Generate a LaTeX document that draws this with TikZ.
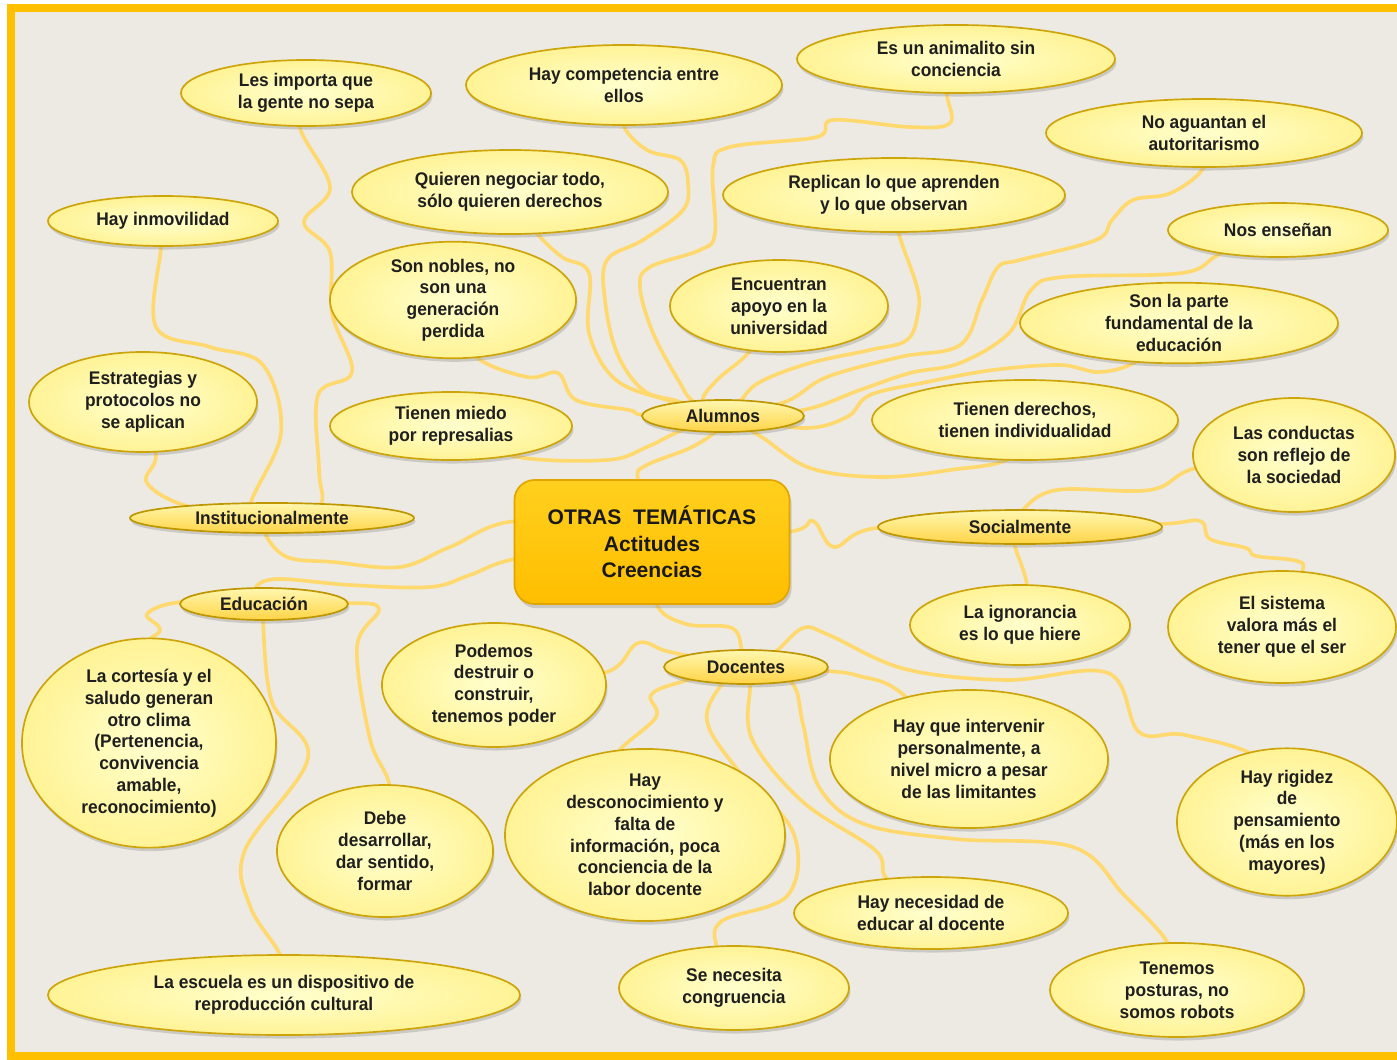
\documentclass[tikz,border=0pt]{standalone}
\usepackage{fontspec}
\setmainfont{Liberation Sans}[FakeStretch=0.95]
\newfontfamily\boxfont{Liberation Sans}
\usepackage{tikz}
\usetikzlibrary{shapes.geometric,shadows}
\definecolor{fondo}{RGB}{236,234,226}
\definecolor{marco}{RGB}{255,192,0}
\definecolor{linea}{RGB}{255,217,110}
\definecolor{leafin}{RGB}{255,255,205}
\definecolor{leafout}{RGB}{255,243,150}
\definecolor{leafedge}{RGB}{205,165,10}
\definecolor{hubtop}{RGB}{255,247,175}
\definecolor{hubbot}{RGB}{255,212,70}
\definecolor{hubedge}{RGB}{190,150,0}
\definecolor{boxtop}{RGB}{255,208,30}
\definecolor{boxbot}{RGB}{255,190,0}
\definecolor{boxedge}{RGB}{225,165,0}
\pgfdeclarelayer{bg}
\pgfdeclarelayer{lines}
\pgfsetlayers{bg,lines,main}

\begin{document}
\begin{tikzpicture}[x=0.025cm, y=-0.025cm,
    leaf/.style={ellipse, draw=leafedge, line width=1.2pt, inner color=leafin, outer color=leafout,
      drop shadow={opacity=0.3, shadow xshift=1pt, shadow yshift=-2.5pt},
      align=center, inner sep=0pt, text=black!88, font=\bfseries\fontsize{13}{15.5}\selectfont},
    hub/.style={leaf, top color=hubtop, bottom color=hubbot, draw=hubedge},
    centro/.style={rectangle, rounded corners=0.5cm, draw=boxedge, line width=1.2pt,
      top color=boxtop, bottom color=boxbot, minimum width=6.875cm, minimum height=3.1cm,
      drop shadow={opacity=0.3, shadow xshift=1.5pt, shadow yshift=-3pt},
      align=center, text=black!90, font=\boxfont\bfseries\fontsize{15}{19}\selectfont},
    dims/.style 2 args={minimum width=#1*0.05cm, minimum height=#2*0.05cm},
    link/.style={draw=linea, line width=2.6pt, line cap=round, line join=round}]
            \useasboundingbox (0,0) rectangle (1397,1060);
            \node[leaf, dims={125}{33}] (importa) at (306,93) {Les importa que\\la gente no sepa};
            \node[leaf, dims={158}{40}] (compet) at (624,85) {Hay competencia entre\\ellos};
            \node[leaf, dims={159}{34}] (animal) at (956,59) {Es un animalito sin\\conciencia};
            \node[leaf, dims={158}{34}] (aguantan) at (1204,133) {No aguantan el\\autoritarismo};
            \node[leaf, dims={158}{42}] (negociar) at (510,192) {Quieren negociar todo,\\sólo quieren derechos};
            \node[leaf, dims={171}{37}] (replican) at (894,195) {Replican lo que aprenden\\y lo que observan};
            \node[leaf, dims={115}{25}] (inmov) at (163,221) {Hay inmovilidad};
            \node[leaf, dims={110}{27}] (ensenan) at (1278,230) {Nos enseñan};
            \node[leaf, dims={123}{55}] (nobles) at (453,300) {Son nobles, no\\son una\\generación\\perdida};
            \node[leaf, dims={109}{46}] (apoyo) at (779,306) {Encuentran\\apoyo en la\\universidad};
            \node[leaf, dims={159}{40}] (parte) at (1179,323) {Son la parte\\fundamental de la\\educación};
            \node[leaf, dims={114}{50}] (estrat) at (143,402) {Estrategias y\\protocolos no\\se aplican};
            \node[leaf, dims={121}{34}] (miedo) at (451,426) {Tienen miedo\\por represalias};
            \node[hub, dims={81}{16}] (alumnos) at (723,416) {Alumnos};
            \node[leaf, dims={153}{40}] (derechos) at (1025,420) {Tienen derechos,\\tienen individualidad};
            \node[leaf, dims={101}{57}] (conductas) at (1294,455) {Las conductas\\son reflejo de\\la sociedad};
            \node[hub, dims={142}{15}] (instit) at (272,518) {Institucionalmente};
            \node[centro] (tema) at (652,542) {OTRAS\ \ TEMÁTICAS\\Actitudes\\Creencias};
            \node[hub, dims={142}{17}] (social) at (1020,527) {Socialmente};
            \node[hub, dims={84}{16}] (educ) at (264,604) {Educación};
            \node[leaf, dims={110}{40}] (ignor) at (1020,625) {La ignorancia\\es lo que hiere};
            \node[leaf, dims={114}{56}] (sistema) at (1282,627) {El sistema\\valora más el\\tener que el ser};
            \node[hub, dims={82}{17}] (docentes) at (746,667) {Docentes};
            \node[leaf, dims={112}{62}] (poder) at (494,685) {Podemos\\destruir o\\construir,\\tenemos poder};
            \node[leaf, dims={127}{93}] (cortesia) at (149,743) {La cortesía y el\\saludo generan\\otro clima\\(Pertenencia,\\convivencia\\amable,\\reconocimiento)};
            \node[leaf, dims={139}{69}] (intervenir) at (969,759) {Hay que intervenir\\personalmente, a\\nivel micro a pesar\\de las limitantes};
            \node[leaf, dims={110}{63}] (rigidez) at (1287,822) {Hay rigidez\\de\\pensamiento\\(más en los\\mayores)};
            \node[leaf, dims={108}{66}] (debe) at (385,851) {Debe\\desarrollar,\\dar sentido,\\formar};
            \node[leaf, dims={140}{78}] (descon) at (645,835) {Hay\\desconocimiento y\\falta de\\información, poca\\conciencia de la\\labor docente};
            \node[leaf, dims={137}{36}] (necesidad) at (931,913) {Hay necesidad de\\educar al docente};
            \node[leaf, dims={236}{40}] (escuela) at (284,995) {La escuela es un dispositivo de\\reproducción cultural};
            \node[leaf, dims={115}{42}] (congru) at (734,988) {Se necesita\\congruencia};
            \node[leaf, dims={127}{47}] (posturas) at (1177,990) {Tenemos\\posturas, no\\somos robots};
            \begin{pgfonlayer}{bg}
            \fill[white] (0,0) rectangle (1397,1060);
            \fill[fondo] (11,8) rectangle (1410,1056);
            \draw[marco, line width=0.2cm] (11,8) rectangle (1410,1056);
            \end{pgfonlayer}
            \begin{pgfonlayer}{lines}
            \draw[link] plot[smooth, tension=0.6] coordinates {(importa.center) (300,128) (330,187) (304,222) (330,252) (332,313) (352,372) (318,395) (319,470) (319,506) (instit.center)};
            \draw[link] plot[smooth, tension=0.6] coordinates {(inmov.center) (161,248) (156,327) (210,347) (263,365) (281,433) (250,506) (instit.center)};
            \draw[link] plot[smooth, tension=0.6] coordinates {(estrat.center) (156,455) (147,483) (190,507) (instit.center)};
            \draw[link] plot[smooth, tension=0.6] coordinates {(instit.center) (265,533) (287,557) (333,562) (400,567) (450,547) (520,521) (tema.center)};
            \draw[link] plot[smooth, tension=0.6] coordinates {(educ.center) (255,589) (277,579) (350,585) (430,587) (470,575) (520,558) (tema.center)};
            \draw[link] plot[smooth, tension=0.6] coordinates {(educ.center) (182,602) (147,614) (160,630) (143,654) (cortesia.center)};
            \draw[link] plot[smooth, tension=0.6] coordinates {(educ.center) (263,622) (272,702) (308,758) (245,850) (250,906) (281,957) (escuela.center)};
            \draw[link] plot[smooth, tension=0.6] coordinates {(educ.center) (347,603) (379,609) (357,647) (370,739) (390,788) (debe.center)};
            \draw[link] plot[smooth, tension=0.6] coordinates {(tema.center) (638,481) (645,466) (690,448) (716,431) (alumnos.center)};
            \draw[link] plot[smooth, tension=0.6] coordinates {(miedo.center) (513,456) (607,460) (647,447) (680,431) (alumnos.center)};
            \draw[link] plot[smooth, tension=0.6] coordinates {(nobles.center) (473,354) (527,377) (558,373) (576,400) (629,410) (645,415) (alumnos.center)};
            \draw[link] plot[smooth, tension=0.6] coordinates {(negociar.center) (536,232) (562,257) (589,273) (589,333) (616,380) (670,401) (alumnos.center)};
            \draw[link] plot[smooth, tension=0.6] coordinates {(compet.center) (623,124) (647,150) (680,160) (688,183) (683,210) (643,240) (607,260) (605,300) (617,353) (643,390) (677,401) (alumnos.center)};
            \draw[link] plot[smooth, tension=0.6] coordinates {(animal.center) (947,92) (950,123) (910,127) (833,120) (817,137) (730,147) (713,167) (715,233) (700,250) (650,267) (640,287) (653,333) (680,383) (693,401) (alumnos.center)};
            \draw[link] plot[smooth, tension=0.6] coordinates {(replican.center) (898,231) (917,287) (918,313) (907,340) (870,350) (810,363) (760,382) (740,401) (alumnos.center)};
            \draw[link] plot[smooth, tension=0.6] coordinates {(apoyo.center) (750,351) (717,380) (703,401) (alumnos.center)};
            \draw[link] plot[smooth, tension=0.6] coordinates {(aguantan.center) (1204,167) (1171,193) (1133,200) (1112,220) (1096,240) (1020,260) (998,267) (982,300) (960,345) (900,357) (827,377) (785,402) (alumnos.center)};
            \draw[link] plot[smooth, tension=0.6] coordinates {(ensenan.center) (1220,254) (1182,273) (1063,277) (1031,290) (1009,333) (960,363) (910,373) (860,390) (803,410) (alumnos.center)};
            \draw[link] plot[smooth, tension=0.6] coordinates {(parte.center) (1139,360) (1100,372) (1060,365) (993,370) (927,382) (870,395) (847,417) (803,428) (alumnos.center)};
            \draw[link] plot[smooth, tension=0.6] coordinates {(alumnos.center) (760,436) (810,468) (880,477) (950,470) (1010,458) (derechos.center)};
            \draw[link] plot[smooth, tension=0.6] coordinates {(tema.center) (788,532) (813,521) (834,547) (877,528) (social.center)};
            \draw[link] plot[smooth, tension=0.6] coordinates {(social.center) (1014,542) (1027,586) (ignor.center)};
            \draw[link] plot[smooth, tension=0.6] coordinates {(social.center) (1160,524) (1200,521) (1210,539) (1246,548) (1256,556) (1297,561) (1302,573) (sistema.center)};
            \draw[link] plot[smooth, tension=0.6] coordinates {(social.center) (1022,511) (1057,490) (1150,490) (1196,468) (conductas.center)};
            \draw[link] plot[smooth, tension=0.6] coordinates {(tema.center) (656,603) (686,624) (732,628) (742,651) (docentes.center)};
            \draw[link] plot[smooth, tension=0.6] coordinates {(poder.center) (604,673) (638,643) (670,652) (docentes.center)};
            \draw[link] plot[smooth, tension=0.6] coordinates {(docentes.center) (681,682) (651,695) (656,717) (620,750) (630,760) (descon.center)};
            \draw[link] plot[smooth, tension=0.6] coordinates {(docentes.center) (722,684) (707,721) (737,769) (793,832) (788,895) (722,921) (717,948) (congru.center)};
            \draw[link] plot[smooth, tension=0.6] coordinates {(docentes.center) (750,684) (752,739) (803,802) (875,850) (887,879) (necesidad.center)};
            \draw[link] plot[smooth, tension=0.6] coordinates {(docentes.center) (791,682) (803,724) (819,787) (864,824) (956,839) (1073,847) (1124,895) (1169,945) (posturas.center)};
            \draw[link] plot[smooth, tension=0.6] coordinates {(docentes.center) (827,671) (859,676) (900,692) (intervenir.center)};
            \draw[link] plot[smooth, tension=0.6] coordinates {(docentes.center) (775,652) (803,628) (829,635) (905,669) (1007,680) (1108,673) (1139,732) (1185,735) (1261,760) (rigidez.center)};
            \end{pgfonlayer}
        \end{tikzpicture}
\end{document}
